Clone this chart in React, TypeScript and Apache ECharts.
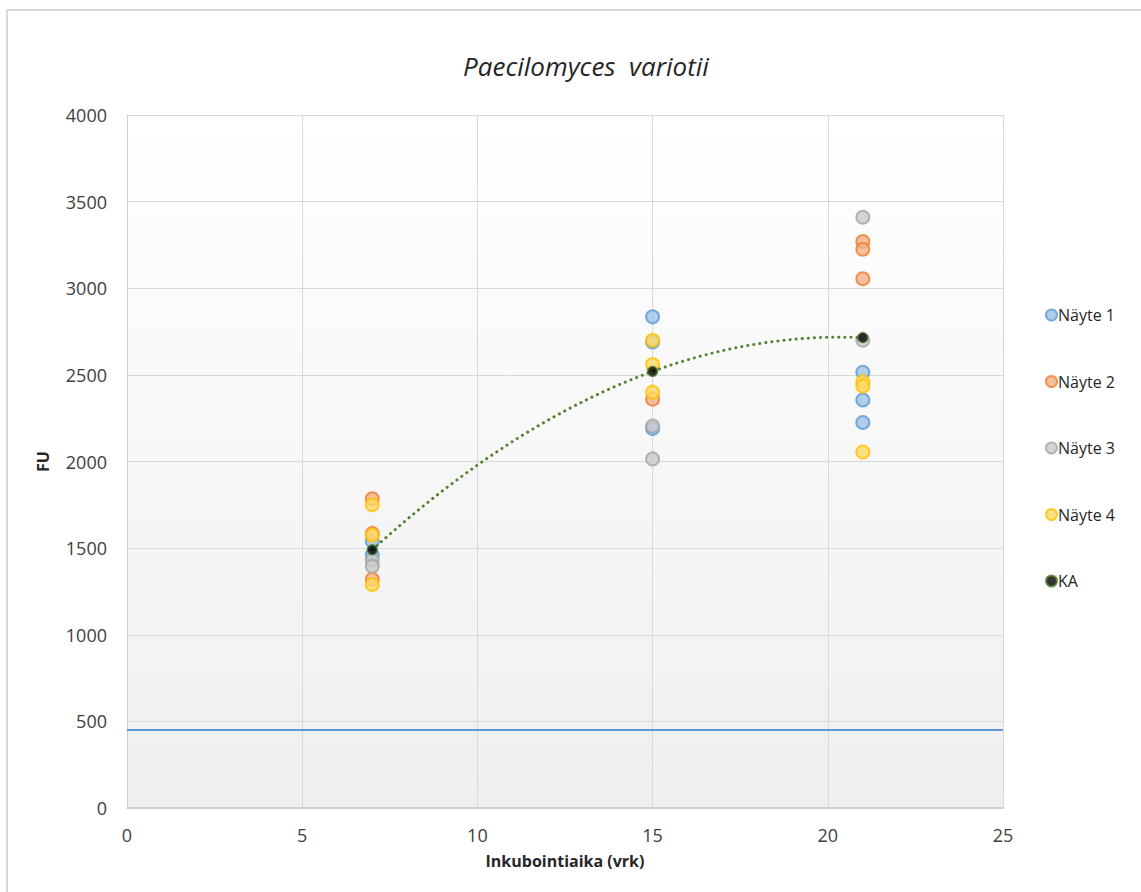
import React, { useEffect, useRef } from "react";
import * as echarts from "echarts";

const title = "Paecilomyces  variotii";
const xAxisName = "Inkubointiaika (vrk)";
const yAxisName = "FU";
const seriesNames = ["Näyte 1", "Näyte 2", "Näyte 3", "Näyte 4", "KA"];
const days = [7, 15, 21];

// values per incubation day (7, 15, 21)
const nayte1 = [[1540, 1460], [2835, 2690, 2190], [2515, 2355, 2225]];
const nayte2 = [[1785, 1585, 1320], [2360], [3270, 3225, 3055]];
const nayte3 = [[1430, 1395], [2205, 2015], [3410, 2700]];
const nayte4 = [[1750, 1575, 1290], [2700, 2560, 2400], [2460, 2435, 2055]];
const ka = [1490, 2520, 2715];
const limitLine = 450;

const fills = ["#9dc3e6", "#f4b183", "#c9c9c9", "#ffd966"];
const strokes = ["#5b9bd5", "#ed7d31", "#a5a5a5", "#ffc000"];

function toPoints(groups: number[][]) {
  const pts: number[][] = [];
  groups.forEach((vals, i) => vals.forEach((v) => pts.push([days[i], v])));
  return pts;
}

// polynomial (order 2) trendline of KA, like the spreadsheet's trendline
function quadTrend() {
  const [x0, x1, x2] = days;
  const [y0, y1, y2] = ka;
  const s1 = (y1 - y0) / (x1 - x0);
  const s2 = (y2 - y1) / (x2 - x1);
  const a = (s2 - s1) / (x2 - x0);
  const f = (x: number) => y0 + s1 * (x - x0) + a * (x - x0) * (x - x1);
  const pts: number[][] = [];
  for (let x = x0; x <= x2 + 1e-9; x += 0.25) pts.push([x, f(x)]);
  return pts;
}

export default function App() {
  const ref = useRef<HTMLDivElement>(null);
  useEffect(() => {
    if (!ref.current) return;
    const chart = echarts.init(ref.current, null, { renderer: "svg" });
    const groups = [nayte1, nayte2, nayte3, nayte4];
    const font = "'Open Sans', sans-serif";
    const scatterSeries: any[] = groups.map((g, i) => ({
      name: seriesNames[i],
      type: "scatter",
      data: toPoints(g),
      symbol: "circle",
      symbolSize: 13,
      itemStyle: { color: fills[i], borderColor: strokes[i], borderWidth: 2 },
      z: 3 + i,
      ...(i === 0
        ? {
            markLine: {
              silent: true,
              symbol: "none",
              label: { show: false },
              lineStyle: { color: "#5b9bd5", width: 2, type: "solid" },
              data: [{ yAxis: limitLine }],
            },
          }
        : {}),
    }));
    chart.setOption({
      animation: false,
      backgroundColor: "#ffffff",
      title: {
        text: title,
        left: 581,
        top: 48,
        textAlign: "center",
        textStyle: { fontFamily: font, fontStyle: "italic", fontWeight: "normal", fontSize: 26, color: "#262626" },
      },
      graphic: [
        {
          type: "rect",
          shape: { x: 7, y: 10, width: 1200, height: 1000 },
          style: { fill: "none", stroke: "#d9d9d9", lineWidth: 2 },
          silent: true,
        },
      ],
      legend: {
        orient: "vertical",
        left: 1040,
        top: 302,
        itemGap: 50.5,
        itemWidth: 11,
        itemHeight: 11,
        data: seriesNames,
        textStyle: { fontFamily: font, fontSize: 16, color: "#262626", padding: [0, 0, 0, -4] },
      },
      grid: {
        left: 127,
        top: 115,
        right: 138,
        bottom: 84,
        show: true,
        borderWidth: 0,
        backgroundColor: new echarts.graphic.LinearGradient(0, 0, 0, 1, [
          { offset: 0, color: "#ffffff" },
          { offset: 1, color: "#efefef" },
        ]),
      },
      xAxis: {
        type: "value",
        min: 0,
        max: 25,
        interval: 5,
        name: xAxisName,
        nameLocation: "middle",
        nameGap: 45,
        nameTextStyle: { fontFamily: font, fontWeight: "bold", fontSize: 16, color: "#262626" },
        axisLine: { show: true, lineStyle: { color: "#d0d0d0", width: 2 } },
        axisTick: { show: false },
        axisLabel: { fontFamily: font, fontSize: 18, color: "#404040", margin: 18, formatter: (v: number) => String(v) },
        splitLine: { show: true, lineStyle: { color: "#d9d9d9", width: 1 } },
      },
      yAxis: {
        type: "value",
        min: 0,
        max: 4000,
        interval: 500,
        name: yAxisName,
        nameLocation: "middle",
        nameGap: 76,
        nameRotate: 90,
        nameTextStyle: { fontFamily: font, fontWeight: "bold", fontSize: 16, color: "#262626" },
        axisLine: { show: true, lineStyle: { color: "#d0d0d0", width: 1 } },
        axisTick: { show: false },
        axisLabel: { fontFamily: font, fontSize: 18, color: "#404040", margin: 20, formatter: (v: number) => String(v) },
        splitLine: { show: true, lineStyle: { color: "#d9d9d9", width: 1 } },
      },
      series: [
        ...scatterSeries,
        {
          name: "trend",
          type: "line",
          data: quadTrend(),
          showSymbol: false,
          symbol: "none",
          smooth: false,
          silent: true,
          lineStyle: { color: "#548235", width: 3, type: [0.1, 6], cap: "round" },
          z: 8,
        },
        {
          name: "KA",
          type: "scatter",
          data: days.map((d, i) => [d, ka[i]]),
          symbol: "circle",
          symbolSize: 10,
          itemStyle: { color: "#000000", borderColor: "#548235", borderWidth: 1.5 },
          z: 9,
        },
      ],
    });
    return () => chart.dispose();
  }, []);
  return (
    <div
      ref={ref}
      style={{ position: "fixed", left: 0, top: 0, width: 1141, height: 892 }}
    />
  );
}
